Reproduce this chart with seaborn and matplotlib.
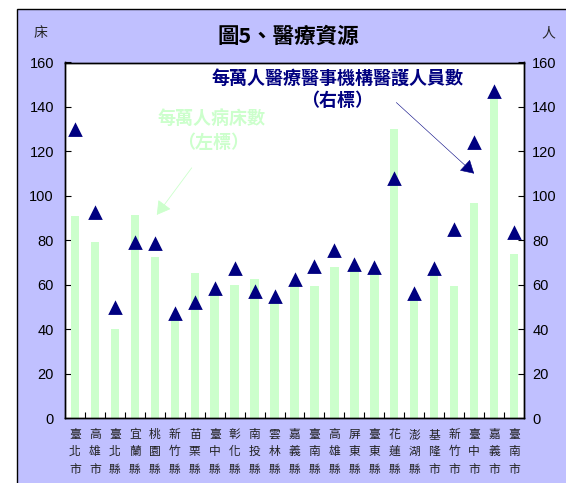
import matplotlib
matplotlib.use("Agg")
import matplotlib.pyplot as plt
import numpy as np
import pandas as pd
import seaborn as sns
from matplotlib.patches import Rectangle


counties = [
    "臺北市", "高雄市", "臺北縣", "宜蘭縣", "桃園縣", "新竹縣", "苗栗縣", "臺中縣",
    "彰化縣", "南投縣", "雲林縣", "嘉義縣", "臺南縣", "高雄縣", "屏東縣", "臺東縣",
    "花蓮縣", "澎湖縣", "基隆市", "新竹市", "臺中市", "嘉義市", "臺南市",
]
beds_per_10k = [
    90.9, 79.2, 40.0, 91.3, 72.4, 44.8, 65.2, 56.0, 59.8, 62.5, 51.8, 59.8,
    59.3, 67.9, 66.6, 65.4, 130.1, 53.3, 64.8, 59.3, 96.8, 145.4, 73.8,
]
staff_per_10k = [
    129.7, 92.2, 49.4, 78.9, 78.3, 46.7, 51.7, 58.0, 67.2, 56.9, 54.4, 62.0,
    67.9, 75.1, 68.7, 67.6, 107.6, 55.7, 67.2, 84.6, 123.8, 146.6, 83.1,
]
y_ticks = [0, 20, 40, 60, 80, 100, 120, 140, 160]

BAR_COLOR = "#CCFFCC"
MARK_COLOR = "#000080"
BG_COLOR = "#C0C0FF"
CJK = ["Noto Sans CJK TC", "DejaVu Sans"]

df = pd.DataFrame({"county": counties, "beds": beds_per_10k, "staff": staff_per_10k})

sns.set_theme(style="white")
plt.rcParams["font.family"] = ["Liberation Sans", "Noto Sans CJK TC", "DejaVu Sans"]

W, H = 566, 483
fig = plt.figure(figsize=(W / 100, H / 100), dpi=100)
fig.patch.set_facecolor("white")
fig.patches.append(
    Rectangle((17 / W, -0.05), 1.0, 1.05 - 9 / H, transform=fig.transFigure,
              facecolor=BG_COLOR, edgecolor="black", lw=1.0, zorder=-10)
)

ax = fig.add_axes([65 / W, 1 - 418 / H, (524 - 65) / W, (418 - 62.5) / H])
ax.set_facecolor("white")
sns.barplot(data=df, x="county", y="beds", ax=ax, color=BAR_COLOR,
            saturation=1, width=0.42, edgecolor="none", errorbar=None)

ax2 = ax.twinx()
sns.pointplot(data=df, x="county", y="staff", ax=ax2, color=MARK_COLOR,
              marker="^", linestyle="none", markersize=7, errorbar=None)

for a in (ax, ax2):
    a.set_ylim(0, 160)
    a.set_yticks(y_ticks)
    a.set_xlabel("")
    a.set_ylabel("")
    for s in a.spines.values():
        s.set_visible(True)
        s.set_color("black")
        s.set_linewidth(1.0)

ax.set_xlim(-0.5, len(counties) - 0.5)
ax.set_xticks(np.arange(len(counties)))
ax.set_xticklabels(["\n".join(c) for c in counties], family=CJK, fontsize=8.5,
                   linespacing=1.45, color="#222222")
ax.set_xticks(np.arange(0.5, len(counties) - 0.5, 1), minor=True)
ax.tick_params(axis="x", which="major", length=0, pad=7)
ax.tick_params(axis="x", which="minor", direction="in", length=4, width=0.8,
               color="black", bottom=True)
ax.tick_params(axis="y", direction="in", length=4, width=0.8, pad=8,
               labelsize=10.5, colors="black", left=True)
ax2.tick_params(axis="y", direction="in", length=4, width=0.8, pad=6,
                labelsize=10.5, colors="black", right=True)

# annotations
fig.text(288 / W, 1 - 36 / H, "圖5、醫療資源", ha="center", va="center",
         fontsize=15.5, fontweight="bold", family=CJK, color="black")
fig.text(40 / W, 1 - 33 / H, "床", ha="center", va="center", fontsize=10, family=CJK)
fig.text(548 / W, 1 - 33 / H, "人", ha="center", va="center", fontsize=10, family=CJK)

fig.text(337 / W, 1 - 78 / H, "每萬人醫療醫事機構醫護人員數", ha="center", va="center",
         fontsize=13, fontweight="bold", family=CJK, color=MARK_COLOR)
fig.text(337 / W, 1 - 100 / H, "（右標）", ha="center", va="center",
         fontsize=13, fontweight="bold", family=CJK, color=MARK_COLOR)
fig.text(212 / W, 1 - 118 / H, "每萬人病床數", ha="center", va="center",
         fontsize=13, fontweight="bold", family=CJK, color=BAR_COLOR)
fig.text(213 / W, 1 - 142 / H, "（左標）", ha="center", va="center",
         fontsize=13, fontweight="bold", family=CJK, color=BAR_COLOR)

ax2.annotate("", xy=(20.0, 110.0), xytext=(16.1, 142.0),
             arrowprops=dict(arrowstyle="-|>,head_length=0.6,head_width=0.35",
                             color=MARK_COLOR, lw=0.4,
                             mutation_scale=14, shrinkA=0, shrinkB=0))
ax2.annotate("", xy=(4.1, 91.4), xytext=(5.85, 112.6),
             arrowprops=dict(arrowstyle="-|>,head_length=0.6,head_width=0.35",
                             color=BAR_COLOR, lw=0.6,
                             mutation_scale=14, shrinkA=0, shrinkB=0))

fig.savefig("out.png", dpi=100, facecolor=fig.get_facecolor())
